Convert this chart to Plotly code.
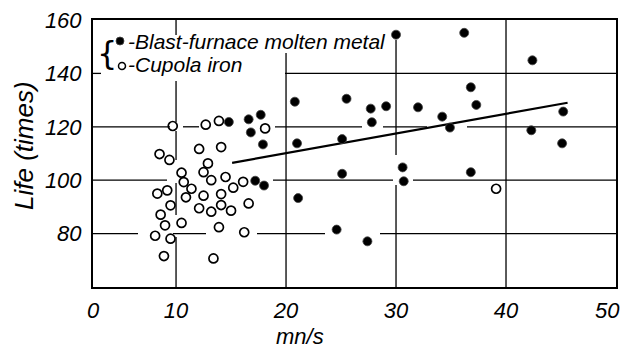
import plotly.graph_objects as go

# ---- data ----
blast_x = [14.8, 16.6, 17.7, 16.8, 17.9, 17.2, 18.0,
           30.0, 20.8, 25.5, 27.7, 29.1, 27.8, 32.0, 34.2, 34.9, 21.0, 25.1,
           36.2, 42.4, 36.8, 37.3, 45.2, 42.3, 45.1,
           25.1, 30.6, 30.7, 36.8, 21.1, 24.6, 27.4]
blast_y = [121.8, 122.8, 124.5, 117.9, 113.4, 99.8, 98.0,
           154.5, 129.4, 130.5, 126.8, 127.7, 121.7, 127.3, 123.8, 119.7, 113.8, 115.4,
           155.2, 144.9, 134.8, 128.2, 125.7, 118.7, 113.8,
           102.4, 104.8, 99.6, 103.0, 93.3, 81.5, 77.1]

cupola_x = [9.7, 12.7, 13.9, 12.1, 14.1, 8.5, 9.4, 12.9, 10.5, 12.5, 13.2, 14.5,
            10.7, 11.4, 16.1, 15.2, 18.1, 8.3, 9.2, 10.9, 12.5, 14.1, 9.5, 12.1,
            13.2, 14.1, 15.0, 16.6, 8.6, 9.0, 10.5, 8.1, 9.5, 13.9, 16.2, 8.9, 13.4, 39.1]
cupola_y = [120.3, 120.8, 122.2, 111.7, 112.4, 109.8, 107.6, 106.3, 102.8, 103.0, 100.0, 101.2,
            99.3, 96.8, 99.4, 97.2, 119.4, 95.0, 96.2, 93.6, 94.2, 94.8, 90.6, 89.5,
            88.2, 90.7, 88.6, 91.3, 87.1, 83.1, 84.0, 79.2, 78.1, 82.4, 80.5, 71.6, 70.7, 96.8]

trend_x = [15.1, 45.6]
trend_y = [106.5, 129.0]

# the last label ("50") sits at the page edge, so it is drawn as a right-aligned annotation
x_tick_vals = [2.45, 10, 20, 30, 40]
x_tick_text = ["0", "10", "20", "30", "40"]
x_last_tick = "50"
y_tick_vals = [80, 100, 120, 140, 160]
y_tick_text = ["80", "100", "120", "140", "160"]

X0, X1 = 2.45, 50
Y0, Y1 = 60, 160

FONT = "Liberation Sans, Arial, sans-serif"

# page body has an 8px margin on every side; size the figure so the page is exactly 629x358
OFF = 8
W, H = 629 - 2 * OFF, 358 - 2 * OFF
PL, PT, PR, PB = 93, 20, 616, 287          # plot area in page pixels
L, T = PL - OFF, PT - OFF
R, B = W - (PR - OFF), H - (PB - OFF)
pw, ph = PR - PL, PB - PT


def px(xp):          # page pixel -> paper x
    return (xp - PL) / pw


def py(yp):          # page pixel -> paper y
    return (PB - yp) / ph


# hand-drawn grid: lines interrupted around points / legend (extents in page pixels)
h_segments = {80: [(93, 138), (173, 206), (257, 325), (380, 616)],
              100: [(93, 167), (273, 393), (413, 616)],
              120: [(93, 170), (183, 199), (275, 362), (383, 427), (467, 616)],
              140: [(93, 101), (285, 616)]}
v_segments = {10: [(20, 35), (81, 122), (131, 160), (183, 215), (237, 287)],
              20: [(53, 287)],
              30: [(40, 155), (185, 287)],
              40: [(20, 287)]}

grid = dict(color="black", width=1.3)
shapes = []
for yv, segs in h_segments.items():
    for a, b in segs:
        shapes.append(dict(type="line", xref="paper", yref="y", x0=px(a), x1=px(b),
                           y0=yv, y1=yv, line=grid, layer="below"))
for xv, segs in v_segments.items():
    for a, b in segs:
        shapes.append(dict(type="line", xref="x", yref="paper", x0=xv, x1=xv,
                           y0=py(b), y1=py(a), line=grid, layer="below"))

fig = go.Figure()
fig.add_trace(go.Scatter(x=trend_x, y=trend_y, mode="lines",
                         line=dict(color="black", width=2.2), showlegend=False, hoverinfo="skip"))
fig.add_trace(go.Scatter(x=cupola_x, y=cupola_y, mode="markers", name="Cupola iron",
                         marker=dict(symbol="circle-open", size=9, color="black",
                                     line=dict(width=1.7, color="black")),
                         showlegend=False))
fig.add_trace(go.Scatter(x=blast_x, y=blast_y, mode="markers", name="Blast-furnace molten metal",
                         marker=dict(symbol="circle", size=9, color="black",
                                     line=dict(width=0.8, color="#444")),
                         showlegend=False))

tickfont = dict(family=FONT, size=22, color="black", style="italic")

annotations = [
    dict(text="Life (times)", x=px(24), y=py(146), xref="paper", yref="paper",
         textangle=-90, showarrow=False, xanchor="center", yanchor="middle",
         font=dict(family=FONT, size=26, color="black", style="italic")),
    dict(text="mn/s", x=px(300), y=py(349.5), xref="paper", yref="paper",
         showarrow=False, xanchor="center", yanchor="bottom", borderpad=0,
         font=dict(family=FONT, size=22, color="black", style="italic")),
    dict(text=x_last_tick, x=X1, y=py(310), xref="x", yref="paper",
         showarrow=False, xanchor="right", yanchor="middle", xshift=6,
         font=tickfont),
    # legend
    dict(text="{", x=px(107), y=py(53), xref="paper", yref="paper",
         showarrow=False, xanchor="center", yanchor="middle",
         font=dict(family="DejaVu Sans", size=32, color="black")),
    dict(text="-Blast-furnace molten metal", x=px(126), y=py(42), xref="paper", yref="paper",
         showarrow=False, xanchor="left", yanchor="middle",
         font=dict(family=FONT, size=21, color="black", style="italic")),
    dict(text="-Cupola iron", x=px(126), y=py(65), xref="paper", yref="paper",
         showarrow=False, xanchor="left", yanchor="middle",
         font=dict(family=FONT, size=21, color="black", style="italic")),
]

# legend markers (pixel-sized circles anchored in paper coords)
shapes.append(dict(type="circle", xref="paper", yref="paper", xsizemode="pixel", ysizemode="pixel",
                   xanchor=px(120), yanchor=py(41), x0=-4, x1=4, y0=-4, y1=4,
                   fillcolor="black", line=dict(color="#444", width=0.8)))
shapes.append(dict(type="circle", xref="paper", yref="paper", xsizemode="pixel", ysizemode="pixel",
                   xanchor=px(122), yanchor=py(66), x0=-3.5, x1=3.5, y0=-3.5, y1=3.5,
                   fillcolor="white", line=dict(color="black", width=1.5)))

fig.update_layout(
    width=W, height=H,
    margin=dict(l=L, r=R, t=T, b=B, autoexpand=False),
    paper_bgcolor="white", plot_bgcolor="white",
    shapes=shapes, annotations=annotations, showlegend=False,
    xaxis=dict(range=[X0, X1], tickvals=x_tick_vals, ticktext=x_tick_text,
               showgrid=False, zeroline=False, showline=True, mirror=True,
               linecolor="black", linewidth=2, ticks="", ticklabelstandoff=3,
               ticklabeloverflow="allow", tickfont=tickfont),
    yaxis=dict(range=[Y0, Y1], tickvals=y_tick_vals, ticktext=y_tick_text,
               showgrid=False, zeroline=False, showline=True, mirror=True,
               linecolor="black", linewidth=2, ticks="", ticklabelstandoff=5,
               ticklabeloverflow="allow", tickfont=tickfont),
)

fig.write_html("out.html")
